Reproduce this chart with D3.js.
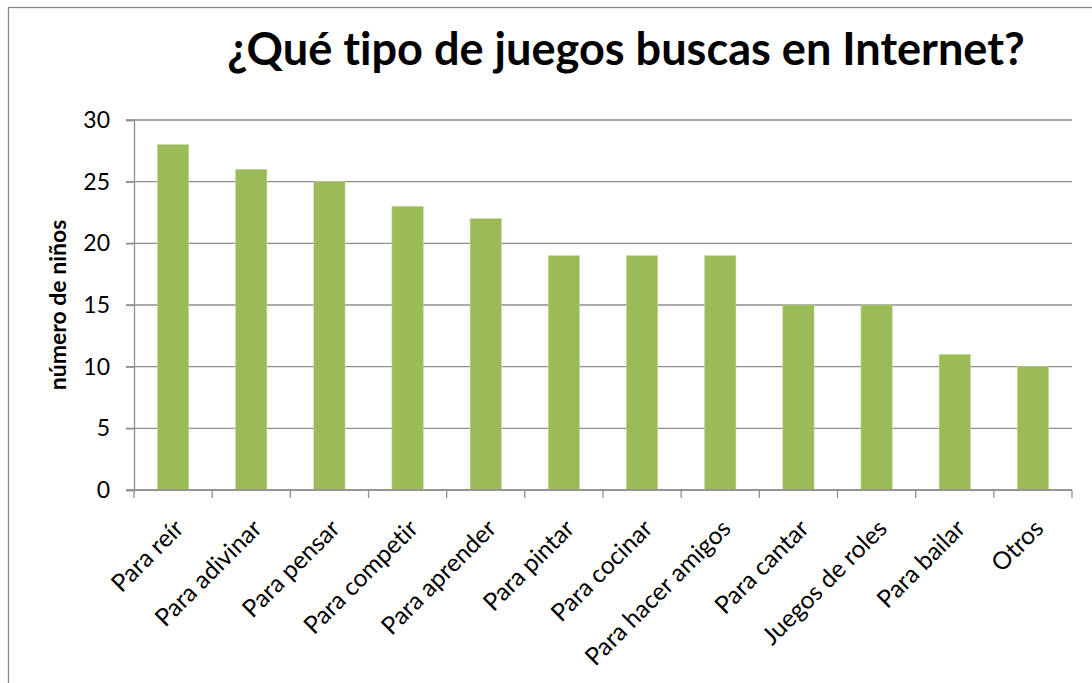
<!DOCTYPE html>
<meta charset="utf-8">
<script src="https://d3js.org/d3.v7.min.js"></script>
<style>
  body { margin: 0; background: #fff; }
  text { font-family: Lato, "Open Sans", sans-serif; fill: #000; font-variant-ligatures: none; }
</style>
<body>
<script>
// Chart data
const categories = ["Para reír", "Para adivinar", "Para pensar", "Para competir", "Para aprender",
  "Para pintar", "Para cocinar", "Para hacer amigos", "Para cantar", "Juegos de roles",
  "Para bailar", "Otros"];
const values = [28, 26, 25, 23, 22, 19, 19, 19, 15, 15, 11, 10];
const yTicks = [0, 5, 10, 15, 20, 25, 30];
const title = "¿Qué tipo de juegos buscas en Internet?";
const yLabel = "número de niños";

const W = 1092, H = 683;
const margin = {top: 120, right: 20, bottom: 193, left: 134};

const svg = d3.select("body").append("svg")
  .attr("width", W)
  .attr("height", H);

// outer chart frame (cropped at right and bottom)
svg.append("rect")
  .attr("x", 8.5).attr("y", 7.5)
  .attr("width", W + 20).attr("height", H + 20)
  .attr("fill", "none")
  .attr("stroke", "#8a8a8a")
  .attr("stroke-width", 1.3);

const x = d3.scaleBand()
  .domain(categories)
  .range([margin.left, 1072])
  .paddingInner(0.6)
  .paddingOuter(0.3);

const y = d3.scaleLinear()
  .domain([0, 30])
  .range([H - margin.bottom, margin.top]);

// gridlines
svg.append("g")
  .selectAll("line")
  .data(yTicks)
  .join("line")
  .attr("x1", margin.left - 8)
  .attr("x2", 1072)
  .attr("y1", d => y(d))
  .attr("y2", d => y(d))
  .attr("stroke", "#8e8e8e")
  .attr("stroke-width", 1.3);

// bars
svg.append("g")
  .selectAll("rect")
  .data(values)
  .join("rect")
  .attr("x", (d, i) => x(categories[i]))
  .attr("y", d => y(d))
  .attr("width", x.bandwidth())
  .attr("height", d => y(0) - y(d))
  .attr("fill", "#9bbb59")
  .attr("stroke", "#c2d69a")
  .attr("stroke-width", 0.6);

// y axis
const yAxis = svg.append("g")
  .attr("transform", `translate(${margin.left},0)`)
  .call(d3.axisLeft(y).tickValues(yTicks).tickSize(8).tickPadding(16));
yAxis.select(".domain").attr("stroke", "#8e8e8e").attr("stroke-width", 1.3);
yAxis.selectAll(".tick line").attr("stroke", "#8e8e8e").attr("stroke-width", 1.3);
yAxis.selectAll(".tick text")
  .style("font-size", "23px")
  .attr("fill", "#000");

// x axis with ticks at category boundaries
const step = x.step();
const bounds = d3.range(categories.length + 1).map(i => margin.left + i * step);
svg.append("line")
  .attr("x1", margin.left).attr("x2", 1072)
  .attr("y1", y(0)).attr("y2", y(0))
  .attr("stroke", "#8e8e8e").attr("stroke-width", 1.3);
svg.append("g")
  .selectAll("line")
  .data(bounds)
  .join("line")
  .attr("x1", d => d).attr("x2", d => d)
  .attr("y1", y(0)).attr("y2", y(0) + 8)
  .attr("stroke", "#8e8e8e").attr("stroke-width", 1.3);

// rotated category labels
svg.append("g")
  .selectAll("text")
  .data(categories)
  .join("text")
  .attr("transform", d => `translate(${x(d) + x.bandwidth() / 2 + 12},${y(0) + 40}) rotate(-45)`)
  .attr("text-anchor", "end")
  .style("font-size", "24.5px")
  .text(d => d);

// y axis title
svg.append("text")
  .attr("transform", `translate(66,305) rotate(-90)`)
  .attr("text-anchor", "middle")
  .style("font-size", "23px")
  .style("font-weight", "bold")
  .text(yLabel);

// chart title, scaled to span the same width as the original
const t = svg.append("text")
  .attr("x", 626)
  .attr("y", 65)
  .attr("text-anchor", "middle")
  .style("font-size", "40px")
  .style("font-weight", "bold")
  .text(title);
const tw = t.node().getComputedTextLength();
t.style("font-size", (40 * 797 / tw).toFixed(1) + "px");
</script>
</body>
</html>
